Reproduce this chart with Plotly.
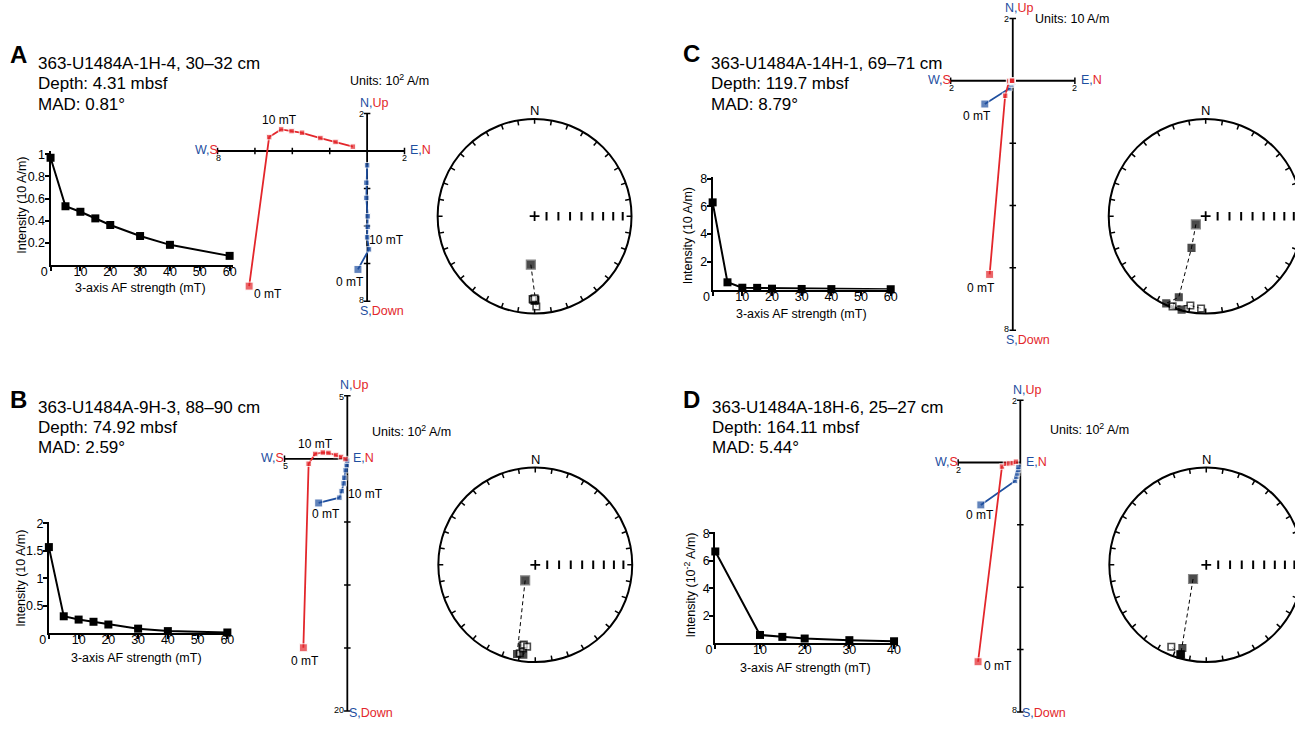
import math
import plotly.graph_objects as go

# The page body keeps its default 8 px margin, so the figure is drawn 16 px smaller
# and every reference pixel position is shifted by OFF.
OFF = 8
WF, HF = 1315 - 2 * OFF, 736 - 2 * OFF
RED = '#e3262b'
BLUE = '#1f4f9f'
FONT = 'Arial, "Liberation Sans", Helvetica, sans-serif'

# ---------------- data ----------------
# Panel A
A_af = [0, 5, 10, 15, 20, 30, 40, 60]
A_int = [0.97, 0.53, 0.48, 0.42, 0.36, 0.26, 0.18, 0.08]
A_E = [-0.49, 0.10, 0.00, 0.03, 0.03, -0.04, -0.04, 0.00]
A_N = [-6.31, -5.24, -4.60, -4.04, -3.48, -2.50, -1.69, -0.76]
A_Up = [-7.20, 0.74, 1.15, 1.06, 0.97, 0.69, 0.48, 0.23]
A_text = ["363-U1484A-1H-4, 30–32 cm", "Depth: 4.31 mbsf", "MAD: 0.81°"]

# Panel B
B_af = [0, 5, 10, 15, 20, 30, 40, 60]
B_int = [1.57, 0.31, 0.25, 0.21, 0.16, 0.085, 0.04, 0.015]
B_E = [-2.28, -0.63, -0.45, -0.29, -0.24, -0.13, -0.05, -0.02]
B_N = [-3.50, -3.08, -2.56, -1.95, -1.50, -0.90, -0.50, -0.15]
B_Up = [-14.98, -0.39, 0.39, 0.50, 0.47, 0.30, 0.15, -0.02]
B_text = ["363-U1484A-9H-3, 88–90 cm", "Depth: 74.92 mbsf", "MAD: 2.59°"]

# Panel C
C_af = [0, 5, 10, 15, 20, 30, 40, 60]
C_int = [6.29, 0.52, 0.13, 0.12, 0.06, 0.04, 0.03, 0.02]
C_E = [-0.90, -0.11, -0.04, -0.05, -0.015, -0.014, -0.005, -0.001]
C_N = [-0.745, -0.245, -0.12, -0.11, -0.058, -0.038, -0.029, -0.02]
C_Up = [-6.21, -0.48, -0.03, -0.004, -0.001, 0.001, 0.004, 0.002]
C_text = ["363-U1484A-14H-1, 69–71 cm", "Depth: 119.7 mbsf", "MAD: 8.79°"]

# Panel D
D_af = [0, 10, 15, 20, 30, 40]
D_int = [6.68, 0.61, 0.47, 0.35, 0.23, 0.15]
D_E = [-1.27, -0.17, -0.13, -0.10, -0.07, -0.06]
D_N = [-1.36, -0.59, -0.46, -0.35, -0.24, -0.14]
D_Up = [-6.39, -0.13, -0.04, -0.03, -0.02, 0.025]
D_text = ["363-U1484A-18H-6, 25–27 cm", "Depth: 164.11 mbsf", "MAD: 5.44°"]

# axis ticks / labels
A_yticks = [0.2, 0.4, 0.6, 0.8, 1]
B_yticks = [0.5, 1, 1.5, 2]
C_yticks = [2, 4, 6, 8]
D_yticks = [2, 4, 6, 8]
X60_ticks = [0, 10, 20, 30, 40, 50, 60]
X40_ticks = [0, 10, 20, 30, 40]
stereo_inc_ticks = [80, 70, 60, 50, 40, 30, 20, 10]
stereo_az_ticks = list(range(0, 360, 10))

# ---------------- layout config (reference pixels) ----------------
panels = [
    dict(key='A', af=A_af, inten=A_int, E=A_E, N=A_N, Up=A_Up, text=A_text,
         letter=(16.5, 58), tx=35, ty=[67, 87.5, 108],
         ix0=49, ixs=3.017, ixr=61, iy0=269.5, iys=111, iyr=1.03,
         yticks=A_yticks, xticks=X60_ticks,
         ytitle='Intensity (10 A/m)', ytpos=(19.3, 210), xtpos=(140, 293.3),
         ox=369, oy=155, s=18.9, zxr=[-8.3, 2.3], zyr=[-8.3, 2.3],
         hl=[-8, 2], vl=[-8, 2], ht=[-8, -6, -4, -2, 2], vt=[2, -2, -4, -6, -8],
         lab=dict(left='8', right='2', top='2', bottom='8'),
         units='Units: 10<sup>2</sup> A/m', upos=(351, 84),
         zlabels=[('10 mT', 280, 124.3), ('0 mT', 268.7, 299.3), ('10 mT', 389, 244.3), ('0 mT', 352, 287)],
         sc=(538.3, 220.7)),
    dict(key='B', af=B_af, inten=B_int, E=B_E, N=B_N, Up=B_Up, text=B_text,
         letter=(16.5, 405), tx=35, ty=[413, 433.5, 454],
         ix0=47.3, ixs=3.007, ixr=61, iy0=640.7, iys=55.3, iyr=2.03,
         yticks=B_yticks, xticks=X60_ticks,
         ytitle='Intensity (10 A/m)', ytpos=(19, 585), xtpos=(136, 665.7),
         ox=349, oy=465, s=12.7, zxr=[-5.6, 1.0], zyr=[-20.6, 5.6],
         hl=[-5, 0], vl=[-20, 5], ht=[-5], vt=[5, -5, -10, -15, -20],
         lab=dict(left='5', right=None, top='5', bottom='20'),
         units='Units: 10<sup>2</sup> A/m', upos=(373, 437),
         zlabels=[('10 mT', 316.7, 450), ('0 mT', 306.7, 668.3), ('10 mT', 367.7, 500.7), ('0 mT', 327.7, 521)],
         sc=(539, 571.7)),
    dict(key='C', af=C_af, inten=C_int, E=C_E, N=C_N, Up=C_Up, text=C_text,
         letter=(697, 57), tx=716, ty=[67, 87.5, 108],
         ix0=718.3, ixs=3.0, ixr=61, iy0=294.5, iys=13.95, iyr=8.1,
         yticks=C_yticks, xticks=X60_ticks,
         ytitle='Intensity (10 A/m)', ytpos=(693.3, 240), xtpos=(808, 319.3),
         ox=1021.7, oy=84.3, s=31.4, zxr=[-2.3, 2.3], zyr=[-8.3, 2.3],
         hl=[-2, 2], vl=[-8, 2], ht=[-2, 2], vt=[2, -2, -4, -6, -8],
         lab=dict(left='2', right='2', top='2', bottom='8'),
         units='Units: 10 A/m', upos=(1043, 22),
         zlabels=[('0 mT', 986, 120), ('0 mT', 989.3, 293.3)],
         sc=(1216.7, 220.7)),
    dict(key='D', af=D_af, inten=D_int, E=D_E, N=D_N, Up=D_Up, text=D_text,
         letter=(697, 405), tx=717, ty=[413, 433.5, 454],
         ix0=721, ixs=4.517, ixr=40.7, iy0=650.8, iys=13.85, iyr=8.1,
         yticks=D_yticks, xticks=X40_ticks,
         ytitle='Intensity (10<sup>-2</sup> A/m)', ytpos=(695, 592), xtpos=(811.7, 676),
         ox=1029.3, oy=468.7, s=31.4, zxr=[-2.3, 0.6], zyr=[-8.3, 2.3],
         hl=[-2, 0], vl=[-8, 2], ht=[-2], vt=[2, -2, -4, -6, -8],
         lab=dict(left='2', right=None, top='2', bottom='8'),
         units='Units: 10<sup>2</sup> A/m', upos=(1058, 435),
         zlabels=[('0 mT', 988.3, 521.7), ('0 mT', 1006.7, 673.3)],
         sc=(1217.3, 571.7)),
]
R_ST = 98


def PX(x):
    return min(1.0, max(0.0, (x - OFF) / WF))


def PY(y):
    return min(1.0, max(0.0, 1 - (y - OFF) / HF))


def ann(text, x, y, size=12.5, color='black', xanchor='center', yanchor='middle', textangle=0):
    return dict(text=text, x=(x - OFF) / WF, y=1 - (y - OFF) / HF, xref='paper', yref='paper',
                showarrow=False, font=dict(size=size, color=color, family=FONT),
                xanchor=xanchor, yanchor=yanchor, textangle=textangle, borderpad=0)


def frame(ox, oy, sx, sy, xlo, xhi, ylo, yhi):
    """Axis domains/ranges so that data value v sits at reference pixel ox + v*sx (x) / oy - v*sy (y)."""
    lpx = max(ox + xlo * sx, OFF)
    rpx = min(ox + xhi * sx, OFF + WF)
    tpx = max(oy - yhi * sy, OFF)
    bpx = min(oy - ylo * sy, OFF + HF)
    xd = [PX(lpx), PX(rpx)]
    yd = [PY(bpx), PY(tpx)]
    xr = [(lpx - ox) / sx, (rpx - ox) / sx]
    yr = [(oy - bpx) / sy, (oy - tpx) / sy]
    return xd, xr, yd, yr


def ea(inc):
    return math.sqrt(2) * math.sin(math.radians((90 - abs(inc)) / 2))


fig = go.Figure()
layout = dict(width=WF, height=HF, margin=dict(l=0, r=0, t=0, b=0), paper_bgcolor='white',
              plot_bgcolor='rgba(0,0,0,0)', showlegend=False, font=dict(family=FONT, color='black'))
annotations = []
shapes = []
b_sp = '<span style="color:%s">' % BLUE
r_sp = '<span style="color:%s">' % RED
BOTTOM_LIMIT = OFF + HF

for i, p in enumerate(panels):
    k = i + 1          # intensity axes
    z = i + 5          # zijderveld axes
    q = i + 9          # stereonet axes
    ks = '' if k == 1 else str(k)
    # ---- title block
    annotations.append(ann('<b>%s</b>' % p['key'], p['letter'][0], p['letter'][1], size=24))
    for line, yy in zip(p['text'], p['ty']):
        annotations.append(ann(line, p['tx'], yy, size=17, xanchor='left'))

    # ---- intensity plot
    xd, xr, yd, yr = frame(p['ix0'], p['iy0'], p['ixs'], p['iys'], 0, p['ixr'], 0, p['iyr'])
    xt_text = [('0\u2002\u2002' if v == 0 else str(v)) for v in p['xticks']]
    common = dict(showgrid=False, zeroline=False, showline=True, linecolor='black', linewidth=2,
                  ticks='outside', ticklen=4, tickwidth=1.5, tickcolor='black',
                  tickfont=dict(size=12.5, family=FONT, color='black'), fixedrange=True)
    layout['xaxis' + ks] = dict(domain=xd, range=xr, anchor='y' + ks, tickvals=p['xticks'], ticktext=xt_text,
                                ticklabelstandoff=-10, **common)
    layout['yaxis' + ks] = dict(domain=yd, range=yr, anchor='x' + ks, tickvals=p['yticks'],
                                ticktext=[('%g' % v) for v in p['yticks']], ticklabelstandoff=-3, **common)
    fig.add_trace(go.Scatter(x=p['af'], y=p['inten'], mode='lines+markers', xaxis='x' + ks, yaxis='y' + ks,
                             line=dict(color='black', width=2),
                             marker=dict(symbol='square', size=8, color='black'), cliponaxis=False))
    annotations.append(ann(p['ytitle'], p['ytpos'][0], p['ytpos'][1], size=12.5, textangle=-90))
    annotations.append(ann('3-axis AF strength (mT)', p['xtpos'][0], p['xtpos'][1], size=12.5))

    # ---- Zijderveld plot
    ox, oy, s = p['ox'], p['oy'], p['s']
    zs = str(z)
    xd, xr, yd, yr = frame(ox, oy, s, s, p['zxr'][0], p['zxr'][1], p['zyr'][0], p['zyr'][1])
    layout['xaxis' + zs] = dict(domain=xd, range=xr, anchor='y' + zs, visible=False, fixedrange=True)
    layout['yaxis' + zs] = dict(domain=yd, range=yr, anchor='x' + zs, visible=False, fixedrange=True)
    shapes.append(dict(type='line', xref='x' + zs, yref='y' + zs, x0=p['hl'][0], x1=p['hl'][1], y0=0, y1=0,
                       line=dict(color='black', width=1.8), layer='below'))
    shapes.append(dict(type='line', xref='x' + zs, yref='y' + zs, x0=0, x1=0, y0=p['vl'][0], y1=p['vl'][1],
                       line=dict(color='black', width=1.8), layer='below'))
    t = 3.3 / s
    for v in p['ht']:
        shapes.append(dict(type='line', xref='x' + zs, yref='y' + zs, x0=v, x1=v, y0=-t, y1=t,
                           line=dict(color='black', width=1.5), layer='below'))
    for v in p['vt']:
        shapes.append(dict(type='line', xref='x' + zs, yref='y' + zs, x0=-t, x1=t, y0=v, y1=v,
                           line=dict(color='black', width=1.5), layer='below'))
    n = len(p['N'])
    sizes = [8] + [5.5] * (n - 1)
    fig.add_trace(go.Scatter(x=p['E'], y=p['N'], mode='lines+markers', xaxis='x' + zs, yaxis='y' + zs,
                             line=dict(color=BLUE, width=1.8),
                             marker=dict(symbol='square', size=sizes, color=BLUE), cliponaxis=False))
    fig.add_trace(go.Scatter(x=p['N'], y=p['Up'], mode='lines+markers', xaxis='x' + zs, yaxis='y' + zs,
                             line=dict(color=RED, width=1.8),
                             marker=dict(symbol='square', size=sizes, color=RED), cliponaxis=False))
    top_px = oy - p['vl'][1] * s
    bot_px = oy - p['vl'][0] * s
    left_px = ox + p['hl'][0] * s
    right_px = ox + p['hl'][1] * s
    annotations.append(ann(b_sp + 'N,</span>' + r_sp + 'Up</span>', ox - 8.5, top_px - 10.5, xanchor='left'))
    down_y = bot_px + 9.5
    down_x = ox - 8
    if down_y + 7 > BOTTOM_LIMIT:      # keep the label inside the drawing area
        down_y = BOTTOM_LIMIT - 7.5
        down_x = ox + 1
    annotations.append(ann(b_sp + 'S,</span>' + r_sp + 'Down</span>', down_x, down_y, xanchor='left'))
    annotations.append(ann(b_sp + 'W,</span>' + r_sp + 'S</span>', left_px + 1, oy - 0.5, xanchor='right'))
    annotations.append(ann(b_sp + 'E,</span>' + r_sp + 'N</span>', right_px + 5, oy - 0.5, xanchor='left'))
    annotations.append(ann(p['lab']['top'], ox - 2.5, top_px + 1, size=9, xanchor='right'))
    annotations.append(ann(p['lab']['bottom'], ox - 2.3, bot_px - 1.5, size=9, xanchor='right'))
    annotations.append(ann(p['lab']['left'], left_px + 0.5, oy + 7.5, size=9))
    if p['lab']['right']:
        annotations.append(ann(p['lab']['right'], right_px, oy + 7, size=9))
    annotations.append(ann(p['units'], p['upos'][0], p['upos'][1], xanchor='left'))
    for txt, lx, ly in p['zlabels']:
        annotations.append(ann(txt, lx, ly, size=12))

    # ---- stereonet (equal-area), cartesian axes in units of the net radius
    cx, cy = p['sc']
    qs = str(q)
    xd, xr, yd, yr = frame(cx, cy, R_ST, R_ST, -1.06, 1.06, -1.06, 1.06)
    layout['xaxis' + qs] = dict(domain=xd, range=xr, anchor='y' + qs, visible=False, fixedrange=True)
    layout['yaxis' + qs] = dict(domain=yd, range=yr, anchor='x' + qs, visible=False, fixedrange=True)
    shapes.append(dict(type='circle', xref='x' + qs, yref='y' + qs, x0=-1, x1=1, y0=-1, y1=1,
                       line=dict(color='black', width=2), layer='below'))
    tx_, ty_ = [], []
    r_in = 1 - 5.0 / R_ST
    for az in stereo_az_ticks:
        a = math.radians(az)
        tx_ += [r_in * math.sin(a), math.sin(a), None]
        ty_ += [r_in * math.cos(a), math.cos(a), None]
    fig.add_trace(go.Scatter(x=tx_, y=ty_, mode='lines', xaxis='x' + qs, yaxis='y' + qs,
                             line=dict(color='black', width=1.5), hoverinfo='skip'))
    fig.add_trace(go.Scatter(x=[ea(v) for v in stereo_inc_ticks], y=[0] * len(stereo_inc_ticks),
                             mode='markers', xaxis='x' + qs, yaxis='y' + qs,
                             marker=dict(symbol='line-ns', size=6, line=dict(color='black', width=2))))
    fig.add_trace(go.Scatter(x=[0], y=[0], mode='markers', xaxis='x' + qs, yaxis='y' + qs,
                             marker=dict(symbol='cross-thin', size=7, line=dict(color='black', width=1.8))))
    annotations.append(ann('N', cx, cy - R_ST - 8, size=13))
    sx_, sy_, incs = [], [], []
    for e, nn, u in zip(p['E'], p['N'], p['Up']):
        dec = math.atan2(e, nn)
        inc = math.degrees(math.atan2(-u, math.hypot(e, nn)))
        rr = ea(inc)
        sx_.append(rr * math.sin(dec))
        sy_.append(rr * math.cos(dec))
        incs.append(inc)
    fig.add_trace(go.Scatter(x=sx_, y=sy_, mode='lines', xaxis='x' + qs, yaxis='y' + qs,
                             line=dict(color='black', width=1, dash='4px,3px')))
    fig.add_trace(go.Scatter(x=sx_, y=sy_, mode='markers', xaxis='x' + qs, yaxis='y' + qs,
                             marker=dict(symbol='square', size=[9] + [6.5] * (n - 1),
                                         color=['black' if v >= 0 else 'white' for v in incs],
                                         line=dict(color=['#555555'] + ['black'] * (n - 1),
                                                   width=[1.2] + [1.6] * (n - 1)))))

layout['annotations'] = annotations
layout['shapes'] = shapes
fig.update_layout(**layout)
fig.write_html('out.html')
